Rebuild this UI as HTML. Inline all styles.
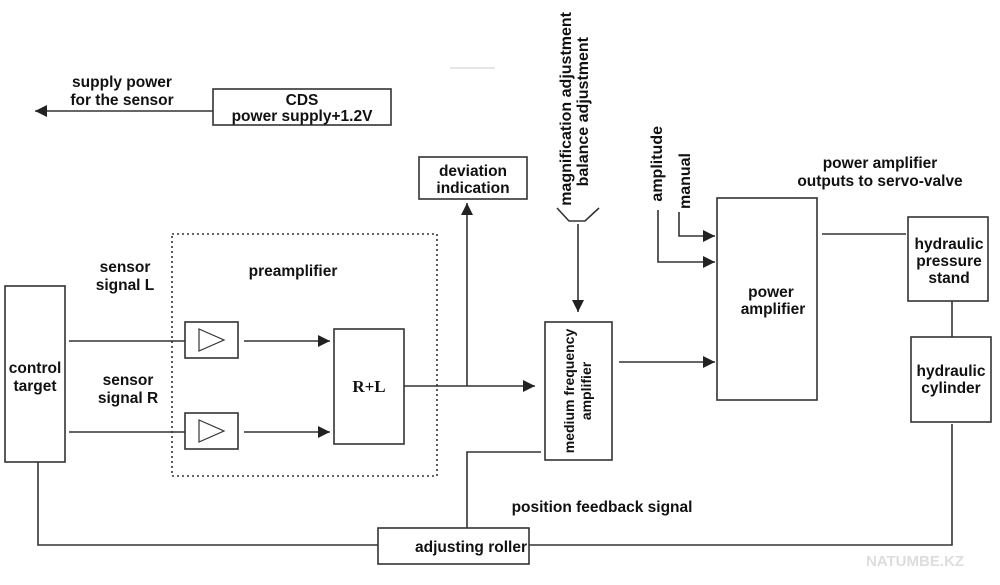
<!DOCTYPE html>
<html><head><meta charset="utf-8"><style>
html,body{margin:0;padding:0;background:#fff;}
svg{display:block;}
text{font-family:"Liberation Sans",Arial,sans-serif;font-weight:bold;font-size:15.5px;fill:#111;}
.r{font-size:16px;}
.m{font-size:14px;}
</style></head><body>
<svg width="1000" height="585" viewBox="0 0 1000 585" xmlns="http://www.w3.org/2000/svg">
<defs><marker id="a" markerWidth="12" markerHeight="12" refX="12" refY="6" orient="auto" markerUnits="userSpaceOnUse"><path d="M0,0 L12,6 L0,12 z" fill="#222"/></marker></defs>
<g stroke="#333" stroke-width="1.6" fill="none">
<rect x="213" y="89" width="178" height="36"/>
<line x1="213" y1="111" x2="35" y2="111" marker-end="url(#a)"/>
<line x1="450" y1="68" x2="495" y2="68" stroke="#ddd"/>
<rect x="419" y="157" width="108" height="42"/>
<rect x="5" y="286" width="60" height="176"/>
<rect x="172" y="234" width="265" height="242" stroke-dasharray="2,3"/>
<rect x="185" y="322" width="53" height="36"/>
<rect x="185" y="413" width="53" height="36"/>
<path d="M199,329 L224,340 L199,351 z" stroke-width="1.2"/>
<path d="M199,420 L224,431 L199,442 z" stroke-width="1.2"/>
<line x1="69" y1="341" x2="185" y2="341"/>
<line x1="69" y1="432" x2="185" y2="432"/>
<line x1="244" y1="341" x2="330" y2="341" marker-end="url(#a)"/>
<line x1="244" y1="432" x2="330" y2="432" marker-end="url(#a)"/>
<rect x="334" y="329" width="70" height="115"/>
<line x1="404" y1="386" x2="535" y2="386" marker-end="url(#a)"/>
<line x1="467" y1="386" x2="467" y2="203" marker-end="url(#a)"/>
<rect x="545" y="322" width="67" height="138"/>
<path d="M557,208 L569,221 L585,221 L599,208"/>
<line x1="578" y1="224" x2="578" y2="312" marker-end="url(#a)"/>
<rect x="717" y="198" width="100" height="202"/>
<line x1="619" y1="362" x2="715" y2="362" marker-end="url(#a)"/>
<path d="M658,210 L658,262 L715,262" marker-end="url(#a)"/>
<path d="M679,212 L679,236 L715,236" marker-end="url(#a)"/>
<line x1="822" y1="234" x2="906" y2="234"/>
<rect x="908" y="217" width="80" height="84"/>
<rect x="911" y="337" width="80" height="85"/>
<line x1="952" y1="301" x2="952" y2="337"/>
<path d="M952,424 L952,545 L529,545"/>
<rect x="378" y="528" width="151" height="36"/>
<path d="M38,462 L38,545 L378,545"/>
<path d="M541,452 L467,452 L467,528"/>
</g>
<text x="122" y="87" text-anchor="middle">supply power</text>
<text x="122" y="105" text-anchor="middle">for the sensor</text>
<text x="302" y="105" text-anchor="middle">CDS</text>
<text x="302" y="121" text-anchor="middle">power supply+1.2V</text>
<text x="473" y="176" text-anchor="middle">deviation</text>
<text x="473" y="193" text-anchor="middle">indication</text>
<text x="125" y="272" text-anchor="middle">sensor</text>
<text x="125" y="290" text-anchor="middle">signal L</text>
<text x="128" y="385" text-anchor="middle">sensor</text>
<text x="128" y="403" text-anchor="middle">signal R</text>
<text x="293" y="276" text-anchor="middle">preamplifier</text>
<text x="35" y="373" text-anchor="middle">control</text>
<text x="35" y="391" text-anchor="middle">target</text>
<text x="369" y="392" text-anchor="middle" style="font-family:'Liberation Serif',serif;font-size:17px">R+L</text>
<text class="m" transform="translate(574,391) rotate(-90)" text-anchor="middle">medium frequency</text>
<text class="m" transform="translate(591,391) rotate(-90)" text-anchor="middle">amplifier</text>
<text class="r" transform="translate(571,12) rotate(-90)" text-anchor="end">magnification adjustment</text>
<text class="r" transform="translate(588,37) rotate(-90)" text-anchor="end">balance adjustment</text>
<text class="r" transform="translate(662,126) rotate(-90)" text-anchor="end">amplitude</text>
<text class="r" transform="translate(690,153) rotate(-90)" text-anchor="end">manual</text>
<text x="771" y="297" text-anchor="middle">power</text>
<text x="773" y="314" text-anchor="middle">amplifier</text>
<text x="880" y="168" text-anchor="middle">power amplifier</text>
<text x="880" y="186" text-anchor="middle">outputs to servo-valve</text>
<text x="949" y="249" text-anchor="middle">hydraulic</text>
<text x="949" y="266" text-anchor="middle">pressure</text>
<text x="949" y="283" text-anchor="middle">stand</text>
<text x="951" y="376" text-anchor="middle">hydraulic</text>
<text x="951" y="393" text-anchor="middle">cylinder</text>
<text x="602" y="512" text-anchor="middle">position feedback signal</text>
<text x="471" y="552" text-anchor="middle">adjusting roller</text>
<text x="915" y="566" text-anchor="middle" style="fill:#ddd;font-size:15px">NATUMBE.KZ</text>
</svg>
</body></html>
